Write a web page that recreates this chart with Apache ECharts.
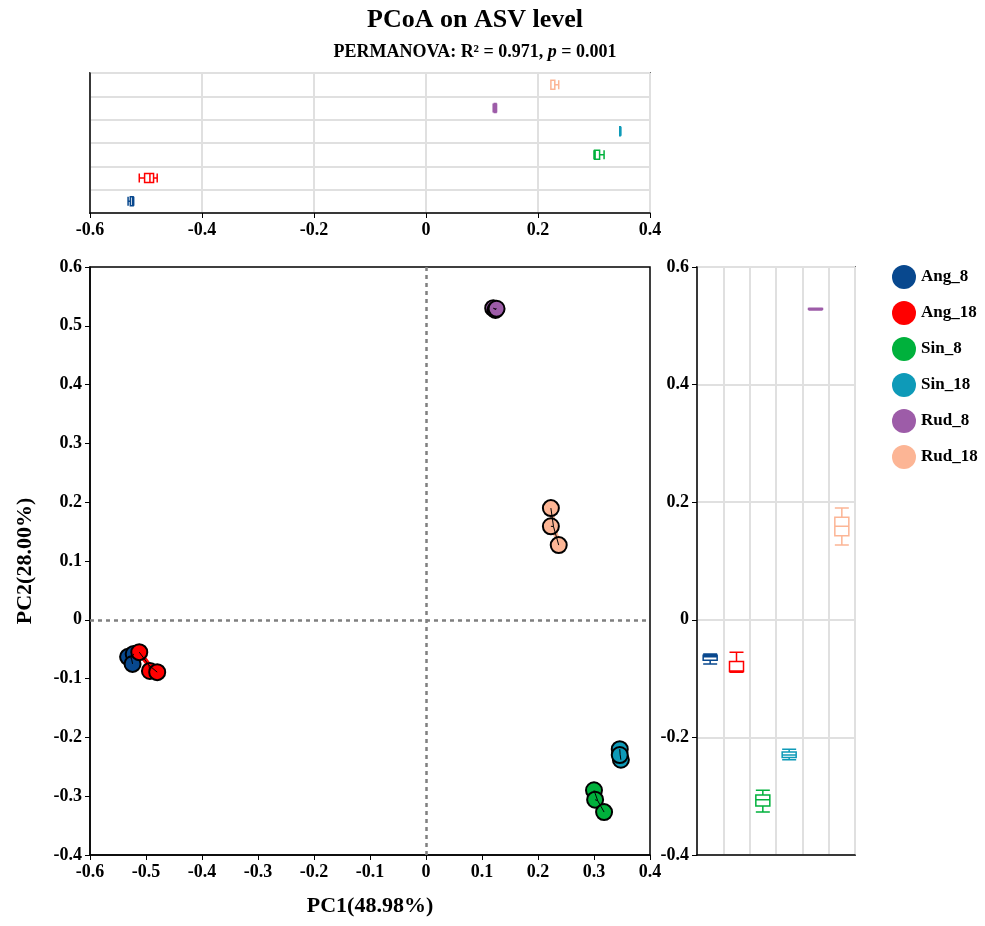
<!DOCTYPE html>
<html lang="en">
<head>
<meta charset="UTF-8">
<title>PCoA</title>
<script src="https://cdn.jsdelivr.net/npm/echarts@6/dist/echarts.min.js"></script>
<style>html,body,#c{width:100%;height:100%;margin:0;padding:0;overflow:hidden;background:#fff}</style>
</head>
<body>
<div id="c"></div>
<script>
var groups = ['Ang_8', 'Ang_18', 'Sin_8', 'Sin_18', 'Rud_8', 'Rud_18'];
var colors = ['#08488e', '#ff0000', '#00b13c', '#0e9ab8', '#9d5ca8', '#fcb595'];
var pc1 = [
  [-0.532, -0.522, -0.524],
  [-0.512, -0.493, -0.480],
  [0.300, 0.302, 0.318],
  [0.346, 0.348, 0.346],
  [0.120, 0.124, 0.126],
  [0.223, 0.223, 0.237]
];
var pc2 = [
  [-0.063, -0.058, -0.075],
  [-0.055, -0.087, -0.089],
  [-0.290, -0.306, -0.327],
  [-0.220, -0.238, -0.230],
  [0.530, 0.527, 0.529],
  [0.190, 0.159, 0.127]
];

var font = 'Liberation Serif';
function box(v) {
  var s = v.slice().sort(function (a, b) { return a - b; });
  var n = s.length;
  var q = function (p) { var i = (n - 1) * p, lo = Math.floor(i); return s[lo] + (s[Math.min(lo + 1, n - 1)] - s[lo]) * (i - lo); };
  return [s[0], q(0.25), q(0.5), q(0.75), s[n - 1]];
}
function boxData(arr) {
  return arr.map(function (v, i) {
    return { value: box(v), itemStyle: { color: '#fff', borderColor: colors[i], borderWidth: 1.5 } };
  });
}
var mean = function (a) { return a.reduce(function (s, x) { return s + x; }, 0) / a.length; };

var series = [];
groups.forEach(function (g, i) {
  var cx = mean(pc1[i]), cy = mean(pc2[i]);
  var spokes = [];
  pc1[i].forEach(function (x, k) { spokes.push([cx, cy], [x, pc2[i][k]], '-'); });
  series.push({
    type: 'line', xAxisIndex: 0, yAxisIndex: 0, data: spokes, showSymbol: false,
    lineStyle: { color: colors[i], width: 5 }, z: 2, silent: true
  });
  series.push({
    name: g, type: 'scatter', xAxisIndex: 0, yAxisIndex: 0, symbolSize: 16,
    data: pc1[i].map(function (x, k) { return [x, pc2[i][k]]; }),
    itemStyle: { color: colors[i], borderColor: '#000', borderWidth: 2, opacity: 1 }, z: 3
  });
  series.push({
    type: 'line', xAxisIndex: 0, yAxisIndex: 0, data: spokes, showSymbol: false,
    lineStyle: { color: '#000', width: 1 }, z: 4, silent: true
  });
});
series[0].markLine = {
  silent: true, symbol: 'none', label: { show: false },
  lineStyle: { color: '#808080', type: [4, 4], width: 2.5 },
  data: [{ xAxis: 0 }, { yAxis: 0 }]
};
series.push({ type: 'boxplot', xAxisIndex: 1, yAxisIndex: 1, boxWidth: [9, 9], data: boxData(pc1) });
series.push({ type: 'boxplot', xAxisIndex: 2, yAxisIndex: 2, boxWidth: [14, 14], data: boxData(pc2) });

var lbl = { fontFamily: font, fontWeight: 'bold', fontSize: 18, color: '#000' };
var axLine = { show: true, onZero: false, lineStyle: { color: '#000', width: 1.5 } };
var tick = { show: true, inside: false, length: 5, lineStyle: { color: '#000' } };
var grey = { show: true, interval: 0, lineStyle: { color: '#e0e0e0', width: 2 } };
var fmt = function (v) { return +v.toFixed(1); };

echarts.init(document.getElementById('c')).setOption({
  animation: false,
  title: {
    text: 'PCoA on ASV level', left: 470, top: 2, textAlign: 'center',
    textStyle: { fontFamily: font, fontSize: 26, fontWeight: 'bold', color: '#000' },
    subtext: '{a|PERMANOVA: R² = 0.971, }{b|p}{a| = 0.001}', itemGap: 10,
    subtextStyle: { rich: { a: { fontFamily: font, fontSize: 18, fontWeight: 'bold', color: '#000' }, b: { fontFamily: font, fontSize: 18, fontWeight: 'bold', fontStyle: 'italic', color: '#000' } } }
  },
  legend: {
    data: groups, orient: 'vertical', left: 887, top: 260, itemGap: 12,
    itemWidth: 24, itemHeight: 24, icon: 'circle', itemStyle: { borderWidth: 0 },
    textStyle: { fontFamily: font, fontWeight: 'bold', fontSize: 17, color: '#000' }
  },
  grid: [
    { left: 90, top: 267, width: 560, height: 588, show: true, borderColor: '#000', borderWidth: 1.5 },
    { left: 90, top: 73, width: 560, height: 140, show: true, borderColor: '#000', borderWidth: 1.5 },
    { left: 697, top: 267, width: 158, height: 588, show: true, borderColor: '#000', borderWidth: 1.5 }
  ],
  xAxis: [
    { type: 'value', gridIndex: 0, min: -0.6, max: 0.4, interval: 0.1, splitLine: { show: false },
      axisLine: axLine, axisTick: tick, axisLabel: Object.assign({}, lbl, { formatter: fmt }),
      name: 'PC1(48.98%)', nameLocation: 'middle', nameGap: 40, nameTextStyle: { fontFamily: font, fontWeight: 'bold', fontSize: 22, color: '#000' } },
    { type: 'value', gridIndex: 1, min: -0.6, max: 0.4, interval: 0.2, splitLine: { show: true, lineStyle: { color: '#e0e0e0', width: 2 } },
      axisLine: axLine, axisTick: tick, axisLabel: Object.assign({}, lbl, { formatter: fmt }) },
    { type: 'category', gridIndex: 2, data: groups, splitLine: grey, axisLabel: { show: false, interval: 0 },
      axisTick: { show: false, interval: 0 }, axisLine: axLine, boundaryGap: true }
  ],
  yAxis: [
    { type: 'value', gridIndex: 0, min: -0.4, max: 0.6, interval: 0.1, splitLine: { show: false },
      axisLine: axLine, axisTick: tick, axisLabel: Object.assign({}, lbl, { formatter: fmt }),
      name: 'PC2(28.00%)', nameLocation: 'middle', nameGap: 54, nameTextStyle: { fontFamily: font, fontWeight: 'bold', fontSize: 22, color: '#000' } },
    { type: 'category', gridIndex: 1, data: groups, splitLine: grey, axisLabel: { show: false, interval: 0 },
      axisTick: { show: false, interval: 0 }, axisLine: axLine },
    { type: 'value', gridIndex: 2, min: -0.4, max: 0.6, interval: 0.2, splitLine: { show: true, lineStyle: { color: '#e0e0e0', width: 2 } },
      axisLine: axLine, axisTick: tick, axisLabel: Object.assign({}, lbl, { formatter: fmt }) }
  ],
  series: series
});
</script>
</body>
</html>
